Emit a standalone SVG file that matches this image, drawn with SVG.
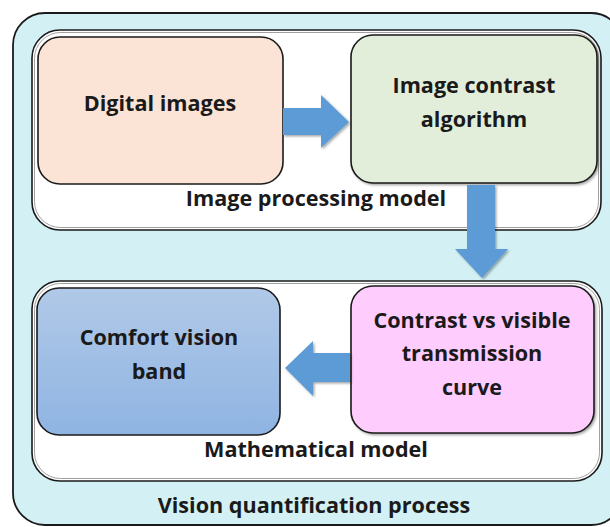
<svg xmlns="http://www.w3.org/2000/svg" width="610" height="527" viewBox="0 0 610 527">
<defs>
<linearGradient id="blueg" x1="0" y1="0" x2="0" y2="1">
<stop offset="0" stop-color="#b1c9e8"/>
<stop offset="1" stop-color="#8fb4e2"/>
</linearGradient>
<filter id="sh" x="-10%" y="-10%" width="130%" height="130%">
<feDropShadow dx="1.5" dy="1.5" stdDeviation="1.2" flood-color="#000" flood-opacity="0.35"/>
</filter>
</defs>
<style>
.t{font-family:"Open Sans","Liberation Sans",sans-serif;font-weight:bold;fill:#1a1a1a;text-anchor:middle}
.n{font-size:21.6px}
.l{font-size:21.6px}
.box{stroke:#1a1a1a;stroke-width:1.6}
.grp{fill:#ffffff;stroke:#1a1a1a;stroke-width:1.6}
.arr{fill:#5b9bd5;filter:url(#sh)}
</style>
<g id="outer">
<rect x="13" y="13" width="610" height="512" rx="32" fill="#d3f1f4" stroke="#1a1a1a" stroke-width="1.8"/>
<text class="t l" x="314" y="513">Vision quantification process</text>
</g>
<g id="image-processing-model">
<rect class="grp" x="32" y="30" width="569" height="200" rx="28"/>
<rect x="34.5" y="32.5" width="564" height="195" rx="26" fill="none" stroke="#888" stroke-width="0.8"/>
<text class="t l" x="316" y="206">Image processing model</text>
</g>
<g id="mathematical-model">
<rect class="grp" x="32" y="281" width="570" height="200" rx="28"/>
<rect x="34.5" y="283.5" width="565" height="195" rx="26" fill="none" stroke="#888" stroke-width="0.8"/>
<text class="t l" x="316" y="457">Mathematical model</text>
</g>
<g id="digital-images">
<rect class="box" x="38" y="37" width="245" height="147" rx="22" fill="#fbe4d6"/>
<text class="t n" x="160" y="111">Digital images</text>
</g>
<g id="image-contrast-algorithm">
<rect class="box" x="351" y="35" width="246" height="148" rx="22" fill="#e2eed9" filter="url(#sh)"/>
<text class="t n" x="474" y="93">Image contrast</text>
<text class="t n" x="474" y="127">algorithm</text>
</g>
<g id="comfort-vision-band">
<rect class="box" x="37" y="288" width="243" height="147" rx="22" fill="url(#blueg)"/>
<text class="t n" x="159" y="345">Comfort vision</text>
<text class="t n" x="159" y="379">band</text>
</g>
<g id="contrast-vs-visible-transmission-curve">
<rect class="box" x="351" y="286" width="243" height="147" rx="22" fill="#ffccfe" filter="url(#sh)"/>
<text class="t n" x="472" y="328">Contrast vs visible</text>
<text class="t n" x="472" y="361">transmission</text>
<text class="t n" x="472" y="395">curve</text>
</g>
<g id="connectors">
<path class="arr" d="M283,108 H321 V95 L349,122 L321,148 V135 H283 Z"/>
<path class="arr" d="M467,185 H495 V249 H508 L482,278 L455,249 H467 Z"/>
<path class="arr" d="M350,353 H313 V341 L285,368 L313,396 V382 H350 Z"/>
</g>
</svg>
